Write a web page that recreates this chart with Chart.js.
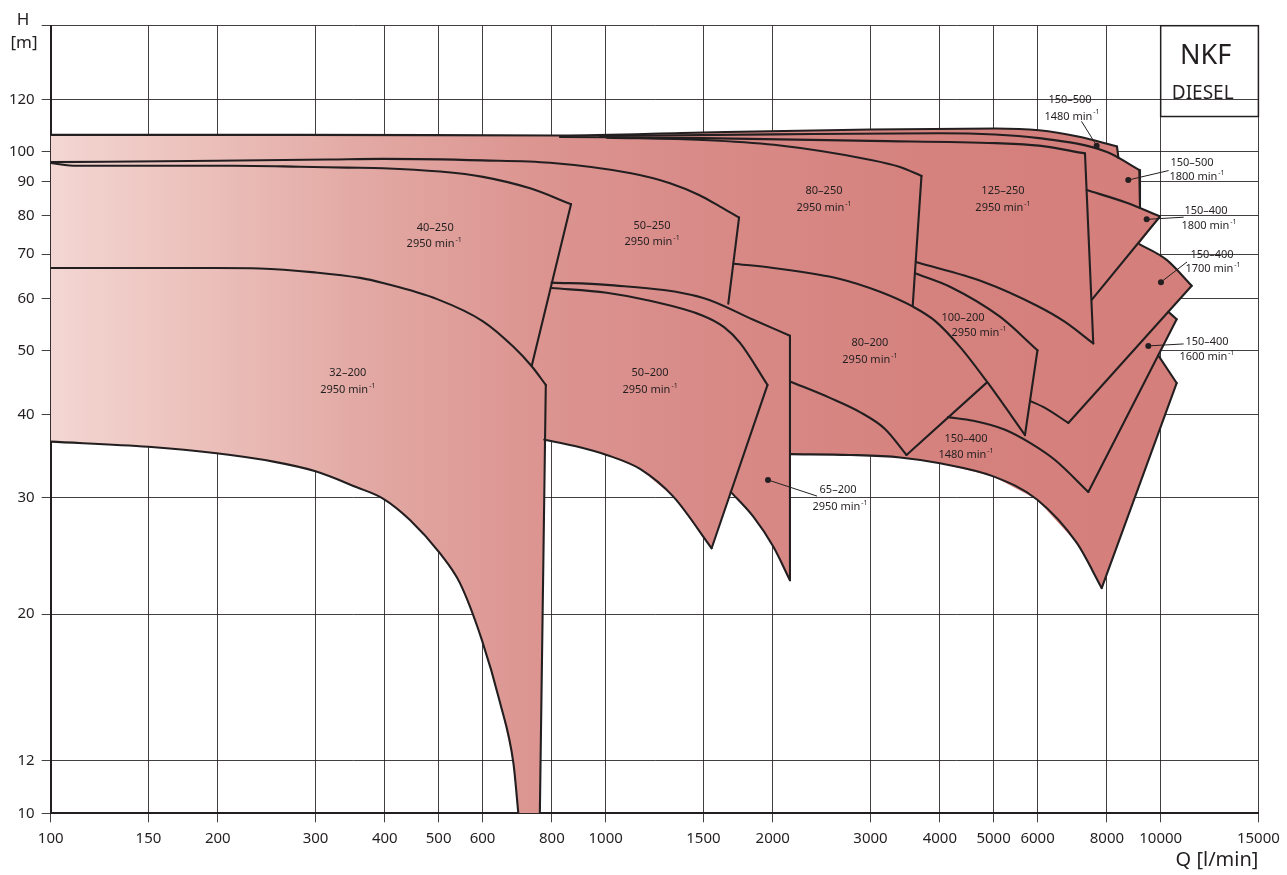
<!DOCTYPE html>
<html>
<head>
<meta charset="utf-8">
<title>NKF Diesel</title>
<script src="https://cdn.jsdelivr.net/npm/chart.js@4.4.1/dist/chart.umd.min.js"></script>
<style>
  html, body { margin: 0; padding: 0; background: #fff; }
  #wrap { width: 1287px; height: 875px; }
</style>
</head>
<body>
<div id="wrap"><canvas id="Chart" width="1287" height="875"></canvas></div>
<script>
// Q [l/min] on x, H [m] on y, both logarithmic
const xTicks = [100, 150, 200, 300, 400, 500, 600, 800, 1000, 1500, 2000, 3000, 4000, 5000, 6000, 8000, 10000, 15000];
const yTicks = [10, 12, 20, 30, 40, 50, 60, 70, 80, 90, 100, 120];

// max / min impeller curves [Q, H]
const top_150_500_1480 = [[100,106.0],[281,106.0],[827,105.8],[1497,106.9],[3006,108.0],[5050,108.4],[6036,107.7],[7095,105.4],[8342,101.8]];
const top_150_500_1800 = [[977,105.6],[2010,106.2],[4003,106.6],[6036,104.8],[8003,99.9],[9151,93.8]];
const top_125_250 = [[827,105.25],[1497,104.8],[3006,103.8],[5050,103.0],[6036,102.1],[7305,99.4]];
const top_80_250 = [[1004,105.0],[1497,104.15],[2010,102.4],[3006,97.15],[3391,94.8],[3707,91.9]];
const top_50_250 = [[100,96.4],[199,96.9],[319,97.3],[397,97.5],[601,97.0],[794,96.2],[1111,92.75],[1306,89.6],[1473,86.0],[1607,82.6],[1739,79.5]];
const top_40_250 = [[100,96.1],[111.5,95.2],[213,95.2],[281,94.9],[342,94.6],[397,94.4],[503,93.3],[601,91.6],[731,88.0],[866,83.3]];
const top_32_200 = [[100,66.7],[199,66.7],[238,66.6],[299,65.7],[361,64.45],[397,63.3],[497,59.85],[601,55.4],[682,50.7],[737,47.3],[780,44.4]];
const bottom_32_200 = [[100,36.45],[150,35.8],[199,35.0],[252,34.0],[299,32.9],[356,31.1],[397,29.9],[444,27.75],[503,24.7],[546,22.3],[598,18.3],[645,14.7],[682,11.9],[696,10]];
const top_50_200 = [[799,62.2],[1004,61.2],[1202,59.5],[1497,56.5],[1634,54.3],[1746,51.4],[1957,44.4]];
const bottom_50_200 = [[775,36.7],[880,35.9],[1004,34.8],[1153,33.15],[1324,30.1],[1552,25.15]];
const top_65_200 = [[799,63.4],[1004,62.9],[1499,60.1],[1845,55.7],[2148,52.7]];
const bottom_65_200 = [[1680,30.6],[1845,28.07],[2004,25.3],[2148,22.5]];
const top_80_200 = [[1700,67.7],[2004,66.7],[2644,64.2],[3121,61.4],[3579,58.3],[3921,55.5],[4349,50.7],[4865,44.9],[5695,37.3]];
const bottom_80_200 = [[2148,44.95],[2536,42.45],[2872,40.4],[3186,38.1],[3484,34.8]];
const top_100_200 = [[3609,65.5],[4172,62.5],[5134,56.3],[5998,50.1]];
const bottom_125_250 = [[3623,68.1],[4785,63.6],[5986,58.5],[6724,55.3],[7561,51.3]];
const top_150_400_1800 = [[7354,87.5],[8685,83.7],[9971,79.8]];
const top_150_400_1700 = [[9151,72.5],[10252,68.6],[11374,62.7]];
const bottom_150_400_1700 = [[5815,42.0],[6188,41.0],[6816,38.9]];
const top_150_400_1600 = [[10320,57.3],[10686,55.8]];
const bottom_150_400_1600 = [[4138,39.7],[4597,39.2],[5242,38.0],[5815,36.3],[6451,34.2],[7406,30.6]];
const top_150_400_1480 = [[9901,49.2],[10686,44.7]];
const bottom_150_400_1480 = [[2148,34.9],[2756,34.8],[3391,34.5],[4003,33.8],[4994,32.3],[5986,29.8],[7066,25.6],[7829,21.9]];

// flow limit lines [Q, H]
const lim_150_500_1480 = [[8342,101.8],[8394,97.8]];
const lim_150_500_1800 = [[9151,93.8],[9178,82.3]];
const lim_125_250 = [[7305,99.4],[7561,51.3]];
const lim_80_250 = [[3707,91.9],[3574,58.4]];
const lim_50_250 = [[1739,79.5],[1663,58.9]];
const lim_40_250 = [[866,83.3],[736,47.5]];
const lim_32_200 = [[780,44.4],[761,10]];
const lim_50_200 = [[1957,44.4],[1552,25.15]];
const lim_65_200 = [[2148,52.7],[2148,22.5]];
const lim_80_200 = [[3484,34.8],[4865,44.8]];
const lim_100_200 = [[5998,50.1],[5695,37.3]];
const lim_150_400_1800 = [[9971,79.8],[7511,59.7]];
const lim_150_400_1700 = [[11374,62.7],[6816,38.9]];
const lim_150_400_1600 = [[10686,55.8],[7406,30.6]];
const lim_150_400_1480 = [[10686,44.7],[7829,21.9]];

// callout dots and their leader lines
const dots = [[1961,31.9],[7668,102.1],[8742,90.6],[9436,79.0],[10012,63.5],[9499,50.86]];
const lead_65_200 = [[1961,31.9],[2400,30.17]];
const lead_150_500_1480 = [[7668,102.1],[7206,111.0]];
const lead_150_500_1800 = [[8742,90.6],[10320,93.6]];
const lead_150_400_1800 = [[9436,79.0],[10983,79.6]];
const lead_150_400_1700 = [[10012,63.5],[11140,68.06]];
const lead_150_400_1600 = [[9499,50.86],[10983,51.21]];

// pump labels: name, speed, Q, H, then pixel offset of the speed line
const pumpLabels = [
  ['32–200', '2950', 343, 46.29, 0, 17],
  ['40–250', '2950', 493, 76.67, -1, 16],
  ['50–250', '2950', 1212, 77.21, 0, 16],
  ['50–200', '2950', 1202, 46.29, 0, 17],
  ['80–250', '2950', 2474, 87.22, 0, 17],
  ['125–250', '2950', 5198, 87.22, 0, 17],
  ['80–200', '2950', 2993, 51.39, 0, 17],
  ['100–200', '2950', 4404, 56.08, 16, 15],
  ['150–400', '1480', 4459, 36.80, 0, 16],
  ['65–200', '2950', 2622, 30.81, 2, 17],
  ['150–500', '1480', 6865, 119.95, 2, 17],
  ['150–500', '1800', 11389, 96.04, 5, 14],
  ['150–400', '1800', 12070, 81.46, 3, 15],
  ['150–400', '1700', 12374, 69.81, 1, 14],
  ['150–400', '1600', 12120, 51.51, 0, 15]
];

const ink = '#231f20';
const gridColor = 'rgba(35,31,32,0.85)';
const rev = a => a.slice().reverse();
const toXY = a => a.map(p => ({x: p[0], y: p[1]}));

// outer edge of the coloured coverage area, walked clockwise
const outline = [
  ...top_150_500_1480, lim_150_500_1480[1],
  ...lim_150_500_1800,
  lim_150_400_1800[0],
  ...top_150_400_1700,
  ...top_150_400_1600,
  ...top_150_400_1480,
  lim_150_400_1480[1],
  ...rev(bottom_150_400_1480).slice(1),
  lim_65_200[1],
  ...rev(bottom_65_200).slice(1),
  lim_50_200[1],
  ...rev(bottom_50_200).slice(1),
  lim_32_200[1],
  ...rev(bottom_32_200),
  top_150_500_1480[0]
];

const curves = [top_150_500_1480, top_150_500_1800, top_125_250, top_80_250, top_50_250, top_40_250,
  top_32_200, bottom_32_200, top_50_200, bottom_50_200, top_65_200, bottom_65_200, top_80_200,
  bottom_80_200, top_100_200, bottom_125_250, top_150_400_1800, top_150_400_1700, bottom_150_400_1700,
  top_150_400_1600, bottom_150_400_1600, top_150_400_1480, bottom_150_400_1480];
const limits = [lim_150_500_1480, lim_150_500_1800, lim_125_250, lim_80_250, lim_50_250, lim_40_250,
  lim_32_200, lim_50_200, lim_65_200, lim_80_200, lim_100_200, lim_150_400_1800, lim_150_400_1700,
  lim_150_400_1600, lim_150_400_1480];
const leaders = [lead_65_200, lead_150_500_1480, lead_150_500_1800, lead_150_400_1800, lead_150_400_1700, lead_150_400_1600];

function areaFill(context) {
  const chart = context.chart;
  const area = chart.chartArea;
  if (!area) return '#dc9490';
  const g = chart.ctx.createLinearGradient(area.left, 0, area.right, 0);
  g.addColorStop(0, '#f3d6d2');
  g.addColorStop(0.12, '#ecc1bc');
  g.addColorStop(0.25, '#e3aaa5');
  g.addColorStop(0.4, '#dc9591');
  g.addColorStop(0.55, '#d88a87');
  g.addColorStop(0.75, '#d5817d');
  g.addColorStop(1, '#d47e7a');
  return g;
}

function lineSet(points, width, smooth) {
  const set = {
    data: toXY(points),
    showLine: true,
    fill: false,
    borderColor: ink,
    borderWidth: width,
    borderJoinStyle: 'round',
    borderCapStyle: 'round',
    pointRadius: 0,
    tension: 0,
    order: 1
  };
  if (smooth) set.cubicInterpolationMode = 'monotone';
  return set;
}

function drawSpeed(ctx, speed, cx, cy) {
  const main = speed + ' min';
  ctx.font = '11px "Noto Sans"';
  const w1 = ctx.measureText(main).width;
  ctx.font = '7px "Noto Sans"';
  const w2 = ctx.measureText('-1').width;
  const left = cx - (w1 + w2 + 1) / 2;
  ctx.textAlign = 'left';
  ctx.font = '11px "Noto Sans"';
  ctx.fillText(main, left, cy);
  ctx.font = '7px "Noto Sans"';
  ctx.fillText('-1', left + w1 + 1, cy - 4);
  ctx.textAlign = 'center';
}

const annotate = {
  id: 'annotate',
  afterDraw(chart) {
    const {ctx, chartArea, scales: {x, y}} = chart;
    ctx.save();
    ctx.fillStyle = ink;
    ctx.textAlign = 'center';
    ctx.textBaseline = 'middle';
    pumpLabels.forEach(([name, speed, q, h, dx, dy]) => {
      const px = x.getPixelForValue(q);
      const py = y.getPixelForValue(h);
      ctx.font = '11px "Noto Sans"';
      ctx.fillText(name, px, py);
      drawSpeed(ctx, speed, px + dx, py + dy);
    });

    // NKF DIESEL box
    const bx = x.getPixelForValue(10000);
    const by = y.getPixelForValue(113);
    ctx.strokeStyle = ink;
    ctx.lineWidth = 1.5;
    ctx.strokeRect(bx, chartArea.top, chartArea.right - bx, by - chartArea.top);
    ctx.font = '27px "Noto Sans"';
    ctx.fillText('NKF', bx + 45, chartArea.top + 31);
    ctx.font = '19px "Noto Sans"';
    ctx.fillText('DIESEL', bx + 42, chartArea.top + 68);

    // axis titles
    ctx.font = '17px "Noto Sans"';
    ctx.fillText('H', 23, 20);
    ctx.fillText('[m]', 24, 43);
    ctx.textAlign = 'right';
    ctx.font = '20px "Noto Sans"';
    ctx.fillText('Q [l/min]', chartArea.right, 860);
    ctx.restore();
  }
};

const datasets = [
  {
    data: toXY(outline),
    showLine: true,
    fill: 'shape',
    backgroundColor: areaFill,
    borderColor: 'rgba(0,0,0,0)',
    borderWidth: 1,
    pointRadius: 0,
    tension: 0,
    order: 10
  },
  ...curves.map(c => lineSet(c, 2.1, true)),
  ...limits.map(l => lineSet(l, 2.1, false)),
  ...leaders.map(l => lineSet(l, 1, false)),
  {
    data: toXY(dots),
    showLine: false,
    pointRadius: 3,
    pointBackgroundColor: ink,
    pointBorderWidth: 0,
    order: 0
  }
];

const tickFont = {family: 'Noto Sans', size: 15};

new Chart(document.getElementById('Chart').getContext('2d'), {
  type: 'scatter',
  data: {datasets: datasets},
  options: {
    responsive: false,
    animation: false,
    layout: {padding: {top: 25.7, right: 28.6, left: 0, bottom: 0}},
    plugins: {
      legend: {display: false},
      tooltip: {enabled: false}
    },
    scales: {
      x: {
        type: 'logarithmic',
        min: 100,
        max: 15000,
        z: 1,
        afterBuildTicks: s => { s.ticks = xTicks.map(v => ({value: v})); },
        afterFit: s => { s.height = 61.7; },
        ticks: {
          autoSkip: false,
          maxRotation: 0,
          padding: 7,
          color: ink,
          font: tickFont,
          callback: v => String(v)
        },
        grid: {color: gridColor, lineWidth: 1, tickLength: 9, tickColor: gridColor},
        border: {display: true, color: ink, width: 2}
      },
      y: {
        type: 'logarithmic',
        min: 10,
        max: 155,
        z: 1,
        afterBuildTicks: s => { s.ticks = yTicks.concat([155]).map(v => ({value: v})); },
        afterFit: s => { s.width = 50.7; },
        ticks: {
          autoSkip: false,
          padding: 7,
          color: ink,
          font: tickFont,
          callback: v => (yTicks.includes(v) ? String(v) : '')
        },
        grid: {color: gridColor, lineWidth: 1, tickLength: 9, tickColor: gridColor},
        border: {display: true, color: ink, width: 2}
      }
    }
  },
  plugins: [annotate]
});
</script>
</body>
</html>
